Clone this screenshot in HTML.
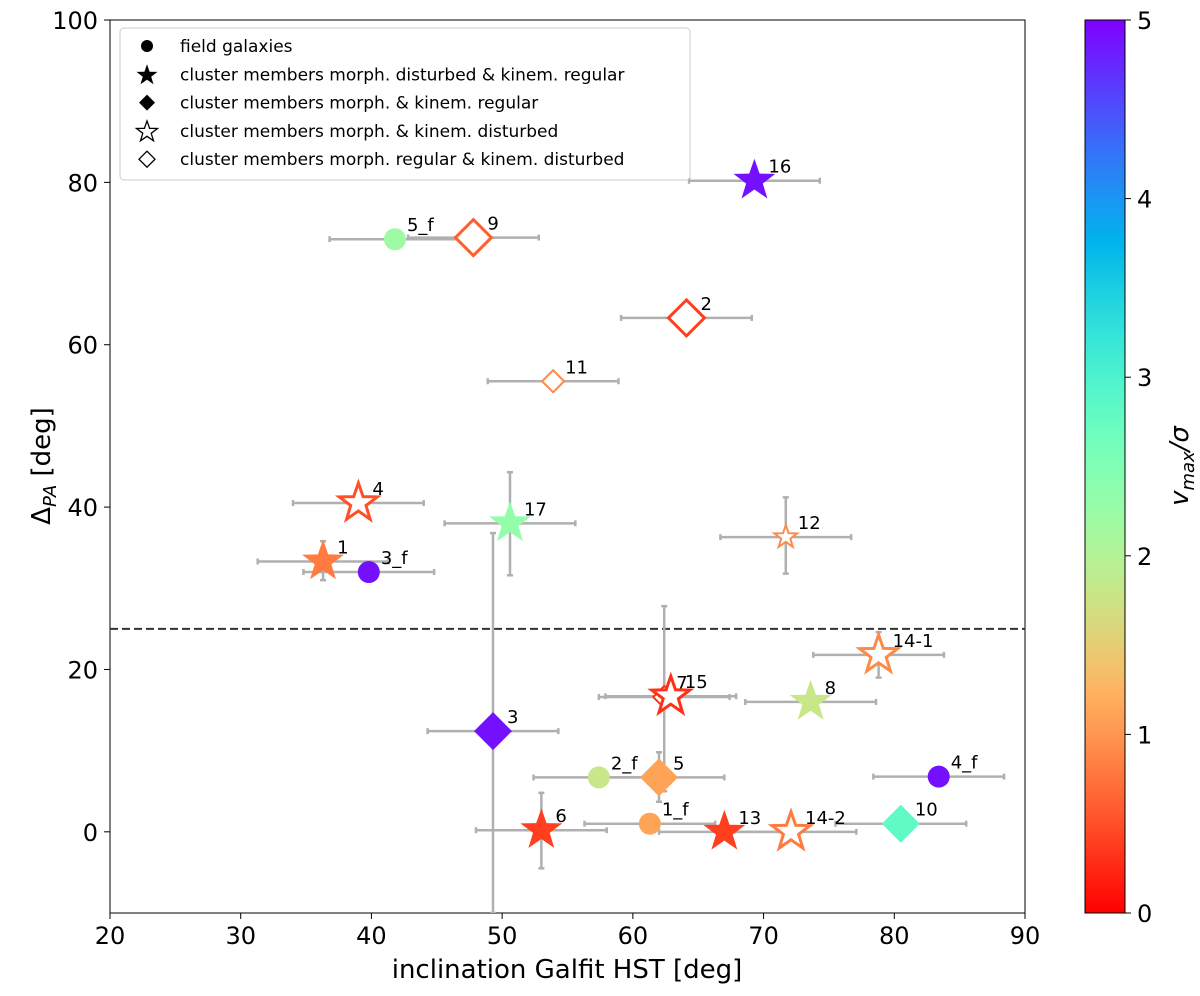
<!DOCTYPE html>
<html><head><meta charset="utf-8"><style>
body{margin:0;background:#fff;width:1200px;height:991px;overflow:hidden;font-family:"Liberation Sans","DejaVu Sans",sans-serif}
</style></head><body>
<svg id="s" width="1200" height="991" font-family="DejaVu Sans, Liberation Sans, sans-serif"></svg>
<script>
const names=["16","5_f","9","2","11","4","17","12","1","3_f","14-1","7","15","8","3","2_f","5","4_f","1_f","6","13","14-2","10"];
const xs=[69.3,41.8,47.8,64.1,53.9,39.0,50.6,71.7,36.3,39.8,78.8,62.4,62.9,73.6,49.3,57.4,62.0,83.4,61.3,53.0,67.0,72.1,80.5];
const ys=[80.2,73.0,73.2,63.3,55.5,40.5,38.0,36.3,33.3,32.0,21.8,16.6,16.7,16.0,12.4,6.7,6.7,6.8,1.0,0.2,0.0,0.0,1.0];
const vs=[4.9,2.2,0.6,0.4,0.9,0.5,2.3,0.9,0.8,4.9,0.9,0.3,0.3,1.8,4.9,1.8,1.1,4.9,1.1,0.4,0.4,0.8,2.8];
const markers=["star","circle","odiamond","odiamond","sodiamond","ostar","star","sostar","star","circle","ostar","sodiamond","ostar","star","diamond","circle","diamond","circle","circle","star","star","ostar","diamond"];
const xerrs=[5,5,5,5,5,5,5,5,5,5,5,5,5,5,5,5,5,5,5,5,5,5,5];
const yerrLo=[0,0,0,0,0,0,6.4,4.5,2.3,0,2.8,11.6,0,0,22.4,0,3.0,0,0,4.7,0,0,0];
const yerrHi=[0,0,0,0,0,0,6.3,4.9,2.5,0,2.8,11.2,0,0,24.4,0,3.1,0,0,4.6,0,0,0];
const xTicks=[20,30,40,50,60,70,80,90];
const yTicks=[0,20,40,60,80,100];
const cTicks=[0,1,2,3,4,5];
const S=document.getElementById('s');const NS='http://www.w3.org/2000/svg';
const X=v=>110+(v-20)*915/70, Y=v=>913-(v+10)*893/110, C=v=>913-v*893/5;
function el(t,a,p){const e=document.createElementNS(NS,t);for(const k in a)e.setAttribute(k,a[k]);(p||S).appendChild(e);return e;}
function col(v){const x=1-v/5;const r=Math.min(1,Math.abs(2*x-0.5)),g=Math.sin(Math.PI*x),b=Math.cos(Math.PI*x/2);return `rgb(${Math.round(r*255)},${Math.round(g*255)},${Math.round(b*255)})`;}
function starPts(cx,cy,R){let p=[];for(let i=0;i<10;i++){const r=i%2?R*0.4:R;const a=-Math.PI/2+i*Math.PI/5;p.push((cx+r*Math.cos(a)).toFixed(1)+','+(cy+r*Math.sin(a)).toFixed(1));}return p.join(' ');}
// colorbar
const defs=el('defs',{});const lg=el('linearGradient',{id:'cb',x1:0,y1:1,x2:0,y2:0},defs);
for(let i=0;i<=20;i++)el('stop',{offset:i/20,'stop-color':col(i/4)},lg);
const cb=el('rect',{x:1085,y:20,width:40,height:893,fill:'url(#cb)',stroke:'#000','stroke-width':1});

cTicks.forEach(t=>{el('line',{x1:1125,x2:1131,y1:C(t),y2:C(t),stroke:'#000'});const tx=el('text',{x:1137,y:C(t)+9,'font-size':24});tx.textContent=t;});
const ct=el('text',{transform:'translate(1188,466) rotate(-90)','text-anchor':'middle','font-size':26,'font-style':'italic'});ct.innerHTML='v<tspan font-size="18" dy="6">max</tspan><tspan dy="-6">/σ</tspan>';

// axes
el('rect',{x:110,y:20,width:915,height:893,fill:'none',stroke:'#000','stroke-width':1});
xTicks.forEach(t=>{el('line',{x1:X(t),x2:X(t),y1:913,y2:919,stroke:'#000'});const tx=el('text',{x:X(t),y:944,'text-anchor':'middle','font-size':24});tx.textContent=t;});
yTicks.forEach(t=>{el('line',{x1:104,x2:110,y1:Y(t),y2:Y(t),stroke:'#000'});const tx=el('text',{x:98,y:Y(t)+9,'text-anchor':'end','font-size':24});tx.textContent=t;});
const xt=el('text',{x:567,y:978,'text-anchor':'middle','font-size':26});xt.textContent='inclination Galfit HST [deg]';
const yt=el('text',{transform:'translate(50,466) rotate(-90)','text-anchor':'middle','font-size':26});yt.innerHTML='Δ<tspan font-size="18" dy="6" font-style="italic">PA</tspan><tspan dy="-6"> [deg]</tspan>';
const th=el('line',{x1:110,x2:1025,y1:Y(25),y2:Y(25),stroke:'#333','stroke-width':2,'stroke-dasharray':'8,4'});
const clip=el('clipPath',{id:'cp'},defs);el('rect',{x:110,y:20,width:915,height:893},clip);
const g=el('g',{'clip-path':'url(#cp)'});
// error bars
names.forEach((n,i)=>{const e=el('g',{stroke:'#b0b0b0','stroke-width':2.5},g);
const y=Y(ys[i]),x0=X(xs[i]-xerrs[i]),x1=X(xs[i]+xerrs[i]);
el('line',{x1:x0,x2:x1,y1:y,y2:y},e);el('line',{x1:x0,x2:x0,y1:y-3,y2:y+3},e);el('line',{x1:x1,x2:x1,y1:y-3,y2:y+3},e);
if(yerrLo[i]||yerrHi[i]){const x=X(xs[i]),a=Y(ys[i]-yerrLo[i]),b=Y(ys[i]+yerrHi[i]);el('line',{x1:x,x2:x,y1:a,y2:b},e);el('line',{x1:x-3,x2:x+3,y1:a,y2:a},e);el('line',{x1:x-3,x2:x+3,y1:b,y2:b},e);}});
// markers
names.forEach((n,i)=>{const x=X(xs[i]),y=Y(ys[i]),c=col(vs[i]),m=markers[i];let e;
if(m=='circle')e=el('circle',{cx:x,cy:y,r:11,fill:c},g);
else if(m=='star')e=el('polygon',{points:starPts(x,y,22),fill:c},g);
else if(m=='ostar'||m=='sostar')e=el('polygon',{points:starPts(x,y,m=='ostar'?20:12),fill:'#fff',stroke:c,'stroke-width':m=='ostar'?3:2},g);
else{const r=m=='diamond'?19:(m=='odiamond'?18:11);const filled=m=='diamond';e=el('polygon',{points:`${x},${y-r} ${x+r},${y} ${x},${y+r} ${x-r},${y}`,fill:filled?c:'#fff',stroke:filled?'none':c,'stroke-width':m=='odiamond'?3:2},g);}

const off=(m=='circle'||m.startsWith('so')||m=='sodiamond')?12:14;
const t=el('text',{x:x+off,y:y-8,'font-size':18},g);t.textContent=n;});
// legend
const L=el('g',{});
el('rect',{x:120,y:28,width:570,height:152,rx:4,fill:'#fff',stroke:'#ccc'},L);
const le=[['circle','field galaxies'],['star','cluster members morph. disturbed & kinem. regular'],['diamond','cluster members morph. & kinem. regular'],['ostar','cluster members morph. & kinem. disturbed'],['odiamond','cluster members morph. regular & kinem. disturbed']];
le.forEach((d,i)=>{const y=46+i*28.3,x=147;let e;
if(d[0]=='circle')el('circle',{cx:x,cy:y,r:6,fill:'#000'},L);
else if(d[0]=='star')el('polygon',{points:starPts(x,y+1,11),fill:'#000'},L);
else if(d[0]=='ostar')el('polygon',{points:starPts(x,y+1,11),fill:'#fff',stroke:'#000','stroke-width':1.3},L);
else{const f=d[0]=='diamond';el('polygon',{points:`${x},${y-8} ${x+8},${y} ${x},${y+8} ${x-8},${y}`,fill:f?'#000':'#fff',stroke:'#000','stroke-width':f?0:1.3},L);}
const t=el('text',{x:180,y:y+6,'font-size':17},L);t.textContent=d[1];});
</script>
</body></html>
